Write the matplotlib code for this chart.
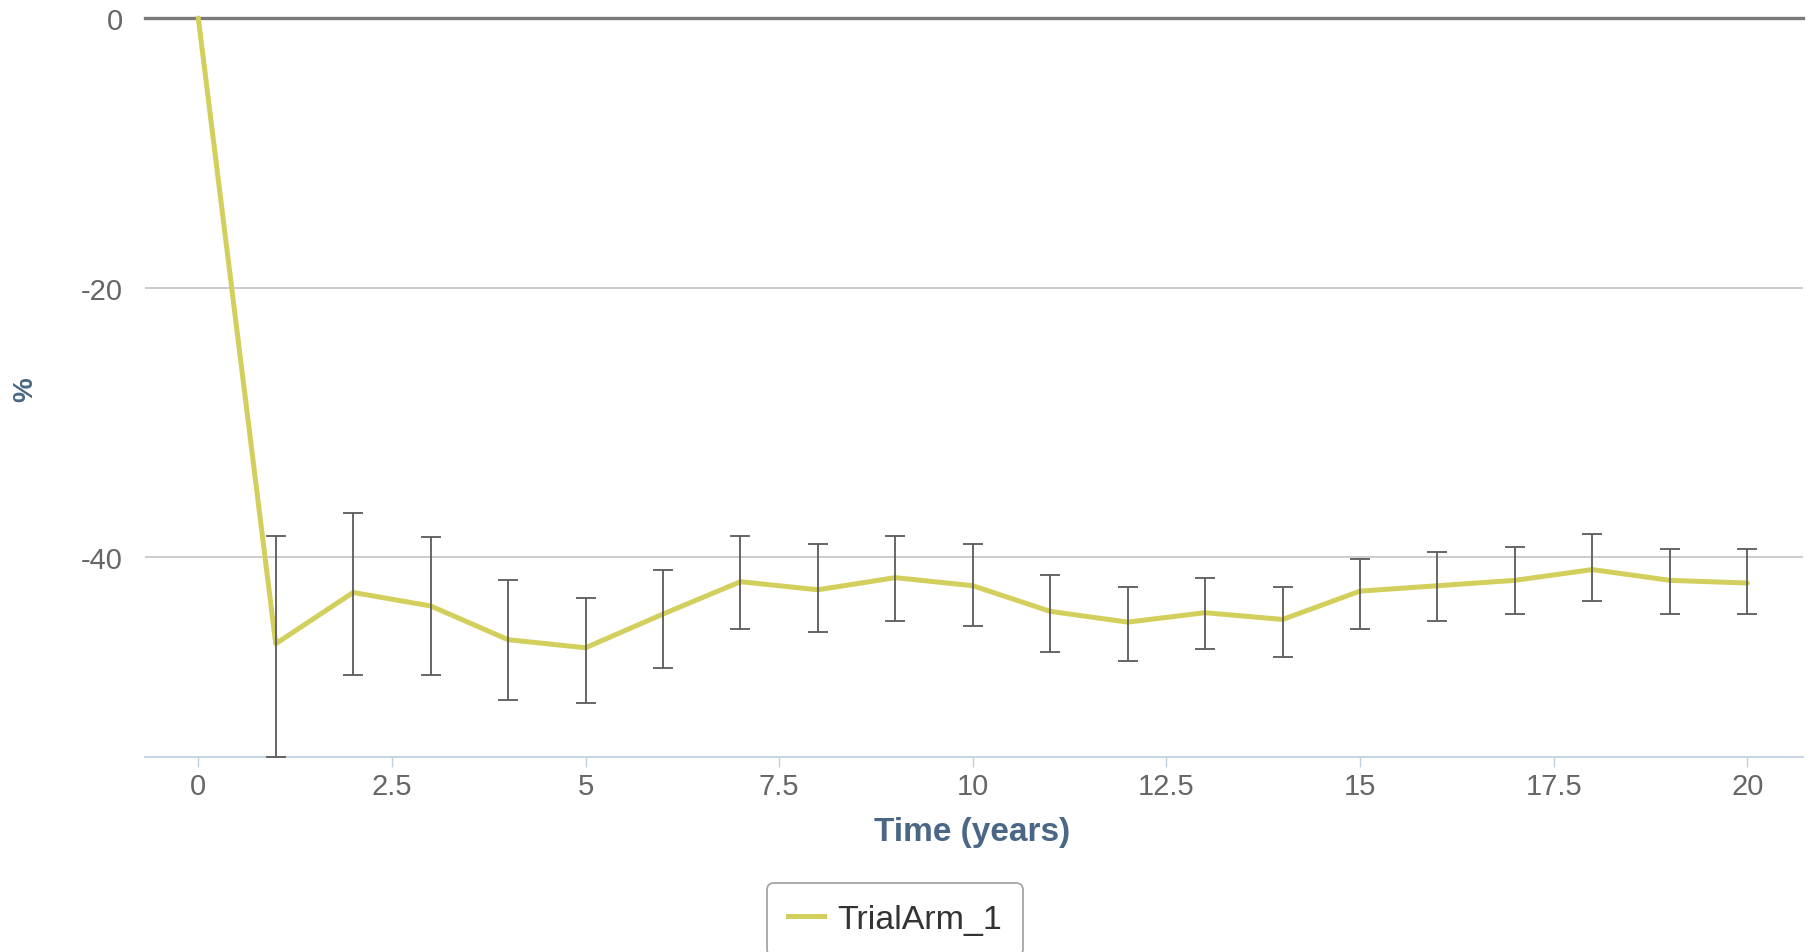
import numpy as np
import matplotlib
matplotlib.use("Agg")
import matplotlib.pyplot as plt
from matplotlib.lines import Line2D

plt.rcParams["font.family"] = ["Liberation Sans", "DejaVu Sans"]

# Mean change (%) over time with interval bounds
time_years = [0, 1, 2, 3, 4, 5, 6, 7, 8, 9, 10, 11, 12, 13, 14, 15, 16, 17, 18, 19, 20]
mean_change = [0.0, -46.4, -42.6, -43.6, -46.1, -46.7, -44.2, -41.8, -42.4, -41.5,
               -42.1, -44.0, -44.8, -44.1, -44.6, -42.5, -42.1, -41.7, -40.9, -41.7, -41.9]
upper_bound = [np.nan, -38.4, -36.7, -38.5, -41.7, -43.0, -40.9, -38.4, -39.0, -38.4,
               -39.0, -41.3, -42.2, -41.5, -42.2, -40.1, -39.6, -39.2, -38.3, -39.4, -39.4]
lower_bound = [np.nan, -54.8, -48.7, -48.7, -50.6, -50.8, -48.2, -45.3, -45.5, -44.7,
               -45.1, -47.0, -47.65, -46.8, -47.4, -45.3, -44.7, -44.2, -43.2, -44.2, -44.2]
series_name = "TrialArm_1"

x_ticks = [0, 2.5, 5, 7.5, 10, 12.5, 15, 17.5, 20]
x_tick_labels = ["0", "2.5", "5", "7.5", "10", "12.5", "15", "17.5", "20"]
y_ticks = [0, -20, -40]
y_tick_labels = ["0", "-20", "-40"]

W, H = 1818, 953
fig = plt.figure(figsize=(W / 100, H / 100), dpi=100)
left, right, top, bottom = 145, 1803, 19, 758
ax = fig.add_axes([left / W, 1 - bottom / H, (right - left) / W, (bottom - top) / H])

line_color = "#d3cf5c"
title_color = "#4a6785"
label_color = "#666666"

t = np.array(time_years, dtype=float)
m = np.array(mean_change)
up = np.array(upper_bound)
lo = np.array(lower_bound)

ax.plot(t, m, color=line_color, lw=3.6, solid_joinstyle="round",
        solid_capstyle="round", zorder=3, clip_on=False)

mask = ~np.isnan(up)
ax.errorbar(t[mask], m[mask], yerr=[m[mask] - lo[mask], up[mask] - m[mask]],
            fmt="none", ecolor="#5a5a5a", elinewidth=1.3, capsize=7.5,
            capthick=1.3, zorder=4)

ax.set_xlim(-0.688, 20.72)
ax.set_ylim(-54.8, 0)

# grid lines and the heavier zero line
for yv in y_ticks:
    if yv == 0:
        ax.axhline(yv, color="#7a7a7a", lw=2.4, zorder=2, clip_on=False)
    else:
        ax.axhline(yv, color="#c4c4c4", lw=1.2, zorder=1)

for s in ["top", "left", "right"]:
    ax.spines[s].set_visible(False)
ax.spines["bottom"].set_color("#c0d0e0")
ax.spines["bottom"].set_linewidth(1.3)

ax.set_xticks(x_ticks)
ax.set_xticklabels(x_tick_labels)
ax.set_yticks(y_ticks)
ax.set_yticklabels(y_tick_labels)
ax.tick_params(axis="x", direction="out", length=7, width=1, color="#c0d0e0",
               labelsize=21, labelcolor=label_color, pad=4)
ax.tick_params(axis="y", length=0, labelsize=21, labelcolor=label_color, pad=16)

fig.text(972 / W, 1 - 833 / H, "Time (years)", ha="center", va="center",
         fontsize=24, fontweight="bold", color=title_color)
fig.text(25.5 / W, 1 - 389.5 / H, "%", ha="center", va="center", rotation=90,
         fontsize=20, fontweight="bold", color=title_color)

handle = Line2D([], [], color=line_color, lw=3.6)
leg = fig.legend([handle], [series_name], loc="upper left",
                 bbox_to_anchor=(766.7 / W, 1 - 884 / H), borderaxespad=0,
                 fontsize=24.5, frameon=True, fancybox=True, edgecolor="#909090",
                 borderpad=0.62, handlelength=1.05, handletextpad=0.4,
                 labelcolor="#333333")
leg.get_frame().set_linewidth(1.3)

fig.savefig("out.png", dpi=100)
